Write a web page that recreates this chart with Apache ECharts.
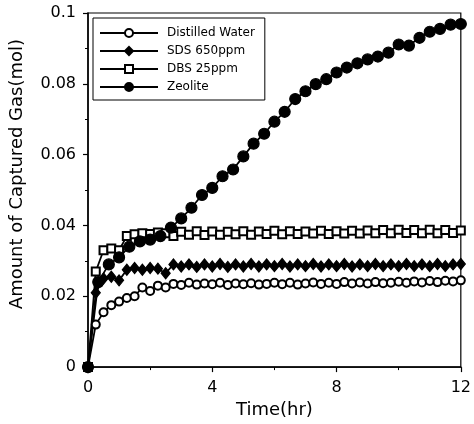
<!DOCTYPE html>
<html>
<head>
<meta charset="utf-8">
<script src="https://cdn.jsdelivr.net/npm/echarts@6/dist/echarts.min.js"></script>
<style>html,body{margin:0;padding:0;background:#fff;}#c{width:474px;height:424px;}</style>
</head>
<body>
<div id="c"></div>
<script>
// time (hr) sampled every 15 min for three series
const timeQ = [0,0.25,0.5,0.75,1,1.25,1.5,1.75,2,2.25,2.5,2.75,3,3.25,3.5,3.75,4,4.25,4.5,4.75,5,5.25,5.5,5.75,6,6.25,6.5,6.75,7,7.25,7.5,7.75,8,8.25,8.5,8.75,9,9.25,9.5,9.75,10,10.25,10.5,10.75,11,11.25,11.5,11.75,12];
// time (hr) sampled every 20 min for zeolite
const timeZ = [0,0.33,0.67,1,1.33,1.67,2,2.33,2.67,3,3.33,3.67,4,4.33,4.67,5,5.33,5.67,6,6.33,6.67,7,7.33,7.67,8,8.33,8.67,9,9.33,9.67,10,10.33,10.67,11,11.33,11.67,12];

const distilled = [0,0.012,0.0155,0.0175,0.0185,0.0195,0.020,0.0225,0.0215,0.023,0.0225,0.0235,0.0232,0.0238,0.0233,0.0236,0.0234,0.0238,0.0232,0.0236,0.0234,0.0237,0.0233,0.0235,0.0238,0.0234,0.0238,0.0233,0.0236,0.0239,0.0235,0.0238,0.0235,0.0240,0.0236,0.0239,0.0236,0.0240,0.0237,0.0238,0.0241,0.0238,0.0242,0.0239,0.0243,0.0240,0.0244,0.0242,0.0245];
const sds = [0,0.021,0.025,0.0255,0.0245,0.0275,0.028,0.0275,0.028,0.0278,0.0265,0.029,0.0284,0.029,0.0283,0.029,0.0284,0.0291,0.0283,0.029,0.0284,0.0291,0.0284,0.029,0.0285,0.0291,0.0284,0.029,0.0285,0.0291,0.0284,0.029,0.0285,0.0291,0.0284,0.029,0.0285,0.0291,0.0285,0.029,0.0285,0.0291,0.0285,0.029,0.0285,0.0291,0.0285,0.029,0.0291];
const dbs = [0,0.027,0.033,0.0335,0.033,0.037,0.0375,0.0378,0.0376,0.038,0.0378,0.037,0.0382,0.0374,0.0384,0.0373,0.0383,0.0374,0.0382,0.0375,0.0384,0.0374,0.0383,0.0376,0.0385,0.0375,0.0384,0.0376,0.0383,0.0377,0.0385,0.0376,0.0384,0.0377,0.0385,0.0377,0.0386,0.0378,0.0387,0.0378,0.0388,0.0379,0.0387,0.0378,0.0388,0.0378,0.0387,0.0379,0.0386];
const zeolite = [0,0.024,0.029,0.031,0.034,0.0355,0.036,0.037,0.0394,0.042,0.045,0.0486,0.0506,0.0539,0.0558,0.0595,0.0631,0.0659,0.0693,0.0721,0.0757,0.0779,0.0799,0.0813,0.0832,0.0846,0.0858,0.0869,0.0877,0.0888,0.0911,0.0908,0.093,0.0947,0.0955,0.0967,0.0969];

const names = ['Distilled Water','SDS 650ppm','DBS 25ppm','Zeolite'];

function pairs(t, v){ return t.map((x,i)=>[x, v[i]]); }

const FONT = 'DejaVu Sans';
const chart = echarts.init(document.getElementById('c'), null, {renderer:'canvas'});
const base = {type:'line', lineStyle:{color:'#000', width:1.8}, itemStyle:{color:'#000', borderColor:'#000', borderWidth:1.2}, showSymbol:true, animation:false, z:2};
chart.setOption({
  animation:false,
  backgroundColor:'#fff',
  grid:{left:88, right:9, top:13, bottom:53, show:true, borderColor:'#000', borderWidth:1.2, backgroundColor:'transparent'},
  legend:{
    orient:'vertical', left:93, top:18,
    data:names,
    borderColor:'#000', borderWidth:1,
    padding:[9,10,7,6],
    itemWidth:58, itemHeight:10, itemGap:6,
    textStyle:{fontFamily:FONT, fontSize:12, color:'#000', padding:[0,0,0,4], lineHeight:12}
  },
  xAxis:{
    type:'value', min:0, max:12, interval:4,
    name:'Time(hr)', nameLocation:'middle', nameGap:31,
    nameTextStyle:{fontFamily:FONT, fontSize:18, color:'#000'},
    axisLine:{lineStyle:{color:'#000', width:1.5}},
    axisTick:{inside:false, length:5, lineStyle:{color:'#000', width:1.2}},
    minorTick:{show:true, splitNumber:2, length:3, lineStyle:{color:'#000', width:1}},
    splitLine:{show:false},
    axisLabel:{fontFamily:FONT, fontSize:16, color:'#000', margin:13}
  },
  yAxis:{
    type:'value', min:0, max:0.1, interval:0.02,
    name:'Amount of Captured Gas(mol)', nameLocation:'middle', nameGap:62,
    nameTextStyle:{fontFamily:FONT, fontSize:18, color:'#000', padding:[0,0,0,32]},
    axisLine:{show:true, lineStyle:{color:'#000', width:1.5}},
    axisTick:{show:true, inside:false, length:5, lineStyle:{color:'#000', width:1.2}},
    minorTick:{show:true, splitNumber:2, length:3, lineStyle:{color:'#000', width:1}},
    splitLine:{show:false},
    axisLabel:{fontFamily:FONT, fontSize:16, color:'#000', margin:12,
      formatter:function(v){ return String(+v.toFixed(2)); }}
  },
  series:[
    Object.assign({}, base, {name:names[0], symbol:'emptyCircle', symbolSize:8, data:pairs(timeQ, distilled)}),
    Object.assign({}, base, {name:names[1], symbol:'diamond', symbolSize:[9,11], data:pairs(timeQ, sds)}),
    Object.assign({}, base, {name:names[2], symbol:'emptyRect', symbolSize:8, data:pairs(timeQ, dbs)}),
    Object.assign({}, base, {name:names[3], symbol:'circle', symbolSize:11, data:pairs(timeZ, zeolite)})
  ]
});
</script>
</body>
</html>
